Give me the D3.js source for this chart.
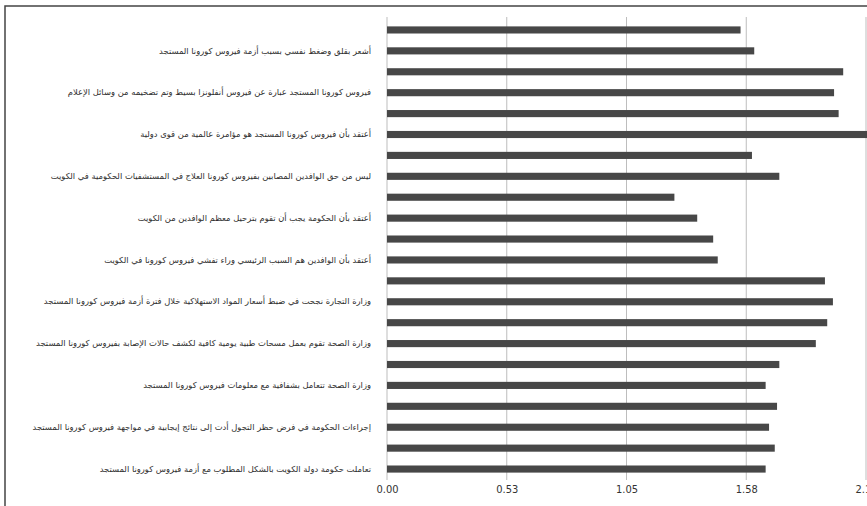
<!DOCTYPE html>
<html lang="ar">
<head>
  <meta charset="UTF-8">
  <title>Survey means</title>
  <script src="https://d3js.org/d3.v7.min.js"></script>
  <style>
    body { margin: 0; background: #fff; }
    .cat text { font-family: 'DejaVu Sans', sans-serif; font-size: 8.4px; fill: #2e2e2e; }
    .axis-x text { font-family: 'Liberation Sans Narrow', 'DejaVu Sans Condensed', sans-serif; font-size: 11px; fill: #333; }
  </style>
</head>
<body>
<div id="chart"></div>
<script>
  // 22 rows, only every second one carries a label in the original
  const categories = [
    '', 'أشعر بقلق وضغط نفسي بسبب أزمة فيروس كورونا المستجد',
    '', 'فيروس كورونا المستجد عبارة عن فيروس أنفلونزا بسيط وتم تضخيمه من وسائل الإعلام',
    '', 'أعتقد بأن فيروس كورونا المستجد هو مؤامرة عالمية من قوى دولية',
    '', 'ليس من حق الوافدين المصابين بفيروس كورونا العلاج في المستشفيات الحكومية في الكويت',
    '', 'أعتقد بأن الحكومة يجب أن تقوم بترحيل معظم الوافدين من الكويت',
    '', 'أعتقد بأن الوافدين هم السبب الرئيسي وراء تفشي فيروس كورونا في الكويت',
    '', 'وزارة التجارة نجحت في ضبط أسعار المواد الاستهلاكية خلال فترة أزمة فيروس كورونا المستجد',
    '', 'وزارة الصحة تقوم بعمل مسحات طبية يومية كافية لكشف حالات الإصابة بفيروس كورونا المستجد',
    '', 'وزارة الصحة تتعامل بشفافية مع معلومات فيروس كورونا المستجد',
    '', 'إجراءات الحكومة في فرض حظر التجول أدت إلى نتائج إيجابية في مواجهة فيروس كورونا المستجد',
    '', 'تعاملت حكومة دولة الكويت بالشكل المطلوب مع أزمة فيروس كورونا المستجد'
  ];
  const values = [
    1.55, 1.61, 2.00, 1.96, 1.98, 2.12, 1.60, 1.72, 1.26, 1.36, 1.43,
    1.45, 1.92, 1.955, 1.93, 1.88, 1.72, 1.66, 1.71, 1.675, 1.70, 1.66
  ];
  const tickValues = [0, 0.525, 1.05, 1.575, 2.1];
  const tickLabels = ['0.00', '0.53', '1.05', '1.58', '2.10'];

  const W = 867, H = 506;
  const svg = d3.select('#chart').append('svg')
    .attr('width', W).attr('height', H);

  svg.append('rect').attr('width', W).attr('height', H).attr('fill', '#fff');

  const x = d3.scaleLinear().domain([0, 2.1]).range([387, 866]);
  const y = d3.scaleBand()
    .domain(d3.range(categories.length))
    .range([19.5, 479.5])
    .paddingInner(0.66)
    .paddingOuter(0.33);

  // frame
  svg.append('path')
    .attr('d', 'M5,' + H + 'V6H' + W)
    .attr('fill', 'none')
    .attr('stroke', '#444')
    .attr('stroke-width', 1.5);

  // grid
  svg.append('g')
    .selectAll('line')
    .data(tickValues)
    .enter().append('line')
    .attr('x1', d => x(d)).attr('x2', d => x(d))
    .attr('y1', 17).attr('y2', 480)
    .attr('stroke', '#bdbdbd')
    .attr('stroke-width', 1);

  svg.selectAll('.bar')
    .data(values)
    .enter().append('rect')
    .attr('class', 'bar')
    .attr('x', x(0))
    .attr('y', (d, i) => y(i))
    .attr('width', d => x(d) - x(0))
    .attr('height', y.bandwidth())
    .attr('fill', '#474747');

  // category labels
  const cat = svg.append('g')
    .attr('class', 'cat')
    .attr('transform', 'translate(' + (x(0) - 16) + ',0)')
    .call(d3.axisLeft(y).tickSize(0).tickPadding(0).tickFormat(i => categories[i]));
  cat.select('.domain').remove();
  cat.selectAll('text').attr('direction', 'rtl').attr('text-anchor', 'start');

  const ax = svg.append('g')
    .attr('class', 'axis-x')
    .attr('transform', 'translate(0,479)')
    .call(d3.axisBottom(x).tickValues(tickValues).tickSize(0).tickPadding(6)
      .tickFormat((d, i) => tickLabels[i]));
  ax.select('.domain').remove();
</script>
</body>
</html>
